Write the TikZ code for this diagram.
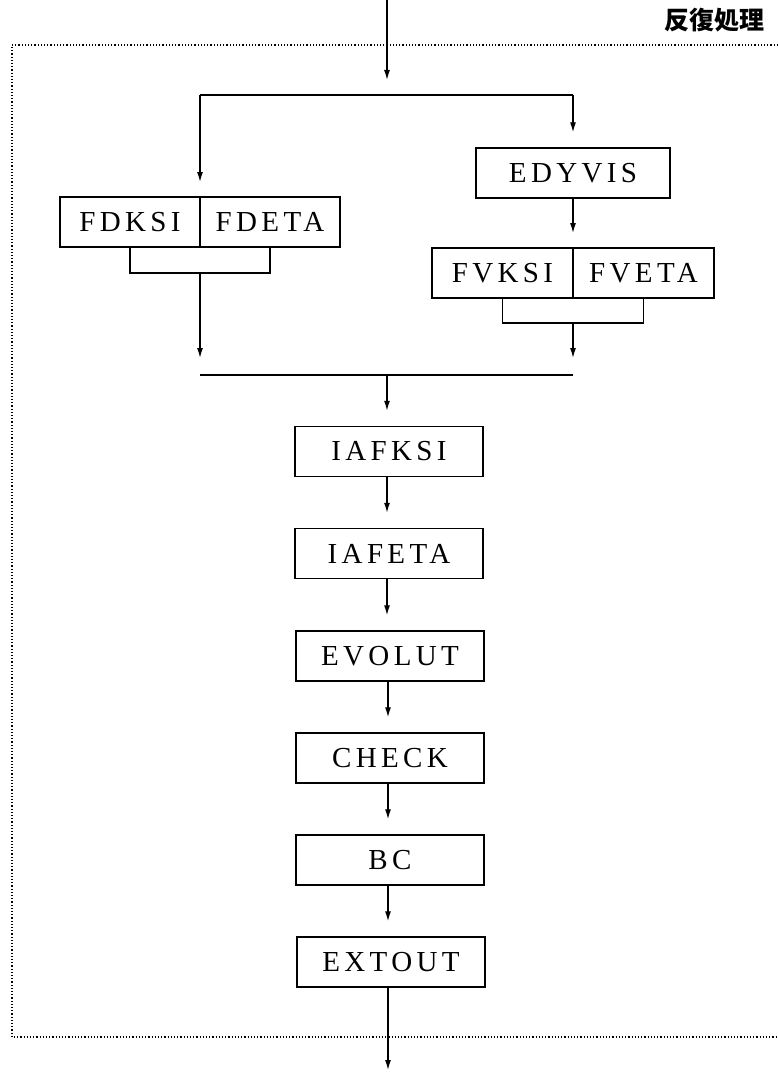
\documentclass[tikz,border=0pt]{standalone}
\usepackage{fontspec}
\usetikzlibrary{arrows.meta}
\newfontfamily\boxfont[LetterSpace=15]{Liberation Serif}
\newfontfamily\cjk{Noto Sans CJK JP}
\tikzset{
  proc/.style={draw, line width=1.4pt, minimum height=50pt, inner sep=0pt,
    font=\boxfont\fontsize{29}{32}\selectfont},
  colbox/.style={proc, minimum width=188pt},
  half/.style={proc, minimum width=140pt},
  link/.style={line width=1.3pt},
  flow/.style={link, -{Latex[length=10pt,width=6pt]}, shorten >=15pt},
  loopframe/.style={line width=1.2pt, dash pattern=on 1.2pt off 2pt},
}
\begin{document}
\begin{tikzpicture}[x=1pt, y=-1pt]
\useasboundingbox (0,0) rectangle (778,1073);

% repeat-loop frame, open on the right
\draw[loopframe] (778,45) -- (12,45) -- (12,1037) -- (778,1037);
\node[font=\cjk\bfseries\fontsize{25}{27}\selectfont] (looplabel) at (714,20) {反復処理};

% entry and branch line
\coordinate (entry) at (387,0);
\coordinate (split) at (387,95);
\coordinate (splitL) at (200,95);
\coordinate (splitR) at (573,95);
\draw[flow] (entry) -- (split);
\draw[link] (splitL) -- (splitR);

% left branch: FDKSI | FDETA
\node[half] (fdksi) at (130,222) {FDKSI};
\node[half] (fdeta) at (270,222) {FDETA};
\draw[flow] (splitL) -- (200,197);
\coordinate (bracketL) at (200,273);
\draw[link] (fdksi.south) |- (bracketL) -| (fdeta.south);

% right branch: EDYVIS, then FVKSI | FVETA
\node[proc, minimum width=194pt] (edyvis) at (573,173) {EDYVIS};
\node[half, minimum width=141pt] (fvksi) at (502.5,273) {FVKSI};
\node[half, minimum width=141pt] (fveta) at (643.5,273) {FVETA};
\draw[flow] (splitR) -- (edyvis.north);
\draw[flow] (edyvis.south) -- (573,248);
\coordinate (bracketR) at (573,323);
\draw[link] (fvksi.south) |- (bracketR) -| (fveta.south);

% join line
\coordinate (joinL) at (200,375);
\coordinate (joinR) at (573,375);
\coordinate (join) at (387,375);
\draw[flow, shorten >=17pt] (bracketL) -- (joinL);
\draw[flow, shorten >=17pt] (bracketR) -- (joinR);
\draw[link] (joinL) -- (joinR);

% main sequence
\node[colbox] (iafksi) at (389,451.5) {IAFKSI};
\node[colbox] (iafeta) at (389,553.5) {IAFETA};
\node[colbox] (evolut) at (390,656) {EVOLUT};
\node[colbox] (check)  at (390,758) {CHECK};
\node[colbox] (bc)     at (390,860) {BC};
\node[colbox] (extout) at (391,962) {EXTOUT};

\coordinate (lower) at (388,0);
\draw[flow] (join) -- (join |- iafksi.north);
\draw[flow] (iafksi.south -| join) -- (iafeta.north -| join);
\draw[flow] (iafeta.south -| join) -- (evolut.north -| join);
\draw[flow] (evolut.south -| lower) -- (check.north -| lower);
\draw[flow] (check.south -| lower) -- (bc.north -| lower);
\draw[flow] (bc.south -| lower) -- (extout.north -| lower);

\coordinate (exit) at (388,1085);
\draw[flow] (extout.south -| exit) -- (exit);
\end{tikzpicture}
\end{document}
